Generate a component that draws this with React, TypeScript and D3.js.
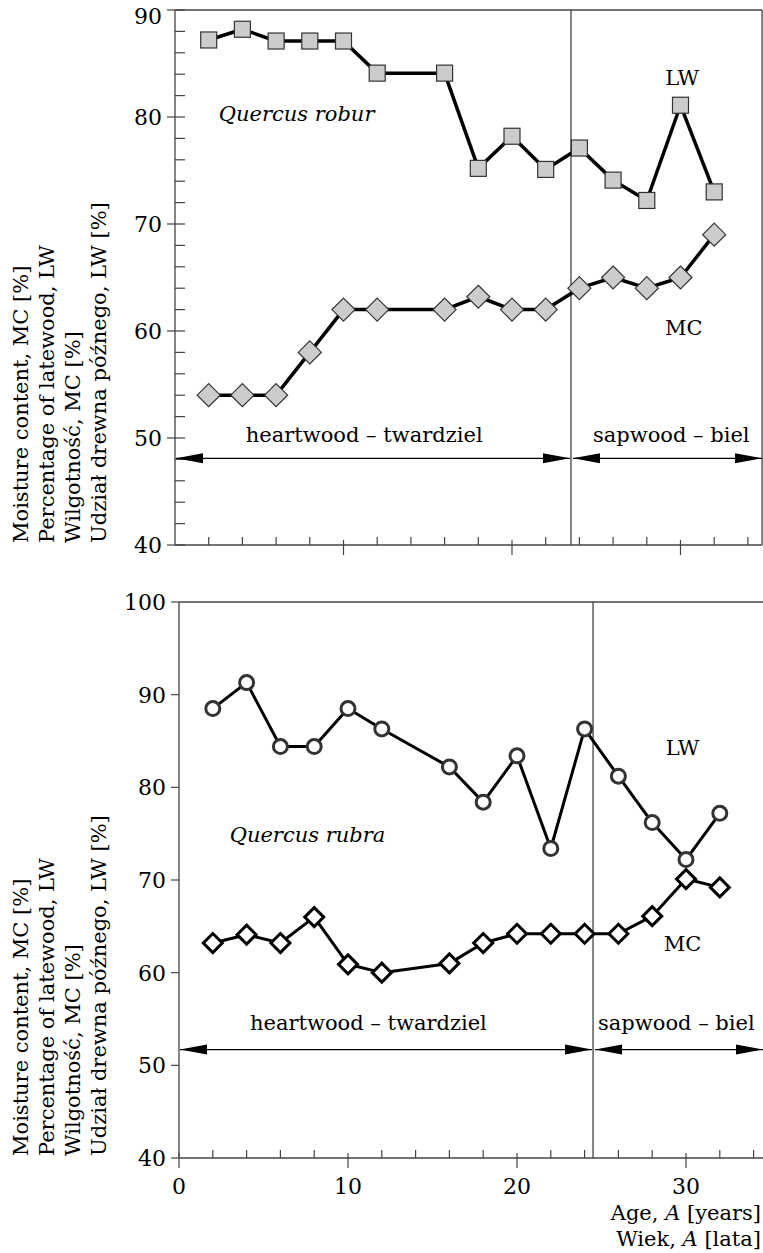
import { useEffect, useRef } from 'react';
import * as d3 from 'd3';

// age of the tree ring [years]
const ages = [2, 4, 6, 8, 10, 12, 16, 18, 20, 22, 24, 26, 28, 30, 32];

// Quercus robur
const roburLW = [87.2, 88.2, 87.1, 87.1, 87.1, 84.1, 84.1, 75.2, 78.2, 75.1, 77.1, 74.1, 72.2, 81.1, 73.0];
const roburMC = [54.0, 54.0, 54.0, 58.0, 62.0, 62.0, 62.0, 63.2, 62.0, 62.0, 64.0, 65.0, 64.0, 65.0, 69.0];

// Quercus rubra
const rubraLW = [88.5, 91.3, 84.4, 84.4, 88.5, 86.3, 82.2, 78.4, 83.4, 73.4, 86.3, 81.2, 76.2, 72.2, 77.2];
const rubraMC = [63.2, 64.1, 63.2, 66.0, 60.9, 60.0, 61.0, 63.2, 64.2, 64.2, 64.2, 64.2, 66.1, 70.1, 69.2];

const yLabelLines = [
  'Moisture content, MC [%]',
  'Percentage of latewood, LW',
  'Wilgotność, MC [%]',
  'Udział drewna późnego, LW [%]',
];
const xTickLabels = [0, 10, 20, 30];

const W = 763;
const H = 1253;
const FONT = '"DejaVu Serif", "Liberation Serif", serif';
const FS = 21;

const arrow = (g, x1, x2, y) => {
  g.append('line')
    .attr('x1', x1).attr('x2', x2).attr('y1', y).attr('y2', y)
    .attr('stroke', '#000').attr('stroke-width', 1.2);
  g.append('path')
    .attr('d', `M${x1},${y}L${x1 + 27},${y - 5}L${x1 + 27},${y + 5}Z`)
    .attr('fill', '#000');
  g.append('path')
    .attr('d', `M${x2},${y}L${x2 - 27},${y - 5}L${x2 - 27},${y + 5}Z`)
    .attr('fill', '#000');
};

const label = (g, x, y, txt, anchor = 'start', italic = false) =>
  g.append('text')
    .attr('x', x).attr('y', y)
    .attr('text-anchor', anchor)
    .attr('font-family', FONT)
    .attr('font-size', FS)
    .attr('font-style', italic ? 'italic' : 'normal')
    .attr('fill', '#000')
    .text(txt);

const drawPanel = (svg, p) => {
  const g = svg.append('g');
  const x = d3.scaleLinear().domain([0, 35]).range([p.left, p.left + 35 * p.pxPerYear]);
  const y = d3.scaleLinear().domain(p.yDomain).range([p.bottom, p.top]);
  const axisColor = '#444';
  const right = p.rightBorder ? x(p.xEnd) : W;

  // frame
  g.append('line').attr('x1', p.left).attr('x2', p.left).attr('y1', p.top).attr('y2', p.bottom)
    .attr('stroke', axisColor).attr('stroke-width', 1.3);
  g.append('line').attr('x1', p.left).attr('x2', right).attr('y1', p.bottom).attr('y2', p.bottom)
    .attr('stroke', axisColor).attr('stroke-width', 1.3);
  g.append('line').attr('x1', p.left).attr('x2', right).attr('y1', p.top).attr('y2', p.top)
    .attr('stroke', axisColor).attr('stroke-width', 1.3);
  if (p.rightBorder) {
    g.append('line').attr('x1', right).attr('x2', right).attr('y1', p.top).attr('y2', p.bottom)
      .attr('stroke', axisColor).attr('stroke-width', 1.3);
  }

  // y ticks
  const yMajor = d3.range(p.yDomain[0], p.yDomain[1] + 1, 10);
  yMajor.forEach(v => {
    g.append('line').attr('x1', p.left - 8).attr('x2', p.left + (p.minorY ? 10 : 0))
      .attr('y1', y(v)).attr('y2', y(v)).attr('stroke', axisColor).attr('stroke-width', 1.2);
    // the top label of a panel that touches the page edge sits a bit lower
    const shift = y(v) < 14 ? 6 : 0;
    g.append('text').attr('x', p.left - 13).attr('y', y(v) + shift).attr('dy', '0.36em')
      .attr('text-anchor', 'end').attr('font-family', FONT).attr('font-size', 22)
      .attr('fill', '#000').text(v);
  });
  if (p.minorY) {
    d3.range(p.yDomain[0], p.yDomain[1], 2).filter(v => v % 10 !== 0).forEach(v => {
      g.append('line').attr('x1', p.left).attr('x2', p.left + 10)
        .attr('y1', y(v)).attr('y2', y(v)).attr('stroke', axisColor).attr('stroke-width', 1.2);
    });
  }

  // x ticks
  d3.range(2, 35, 2).filter(v => v % 10 !== 0).forEach(v => {
    if (x(v) > right) return;
    g.append('line').attr('x1', x(v)).attr('x2', x(v))
      .attr('y1', p.bottom - 8).attr('y2', p.bottom).attr('stroke', axisColor).attr('stroke-width', 1.2);
  });
  xTickLabels.forEach(v => {
    if (v === 0 && p.rightBorder) return;
    g.append('line').attr('x1', x(v)).attr('x2', x(v))
      .attr('y1', p.bottom - 5).attr('y2', p.bottom + 10).attr('stroke', axisColor).attr('stroke-width', 1.2);
    if (p.xLabels) {
      g.append('text').attr('x', x(v)).attr('y', p.bottom + 36)
        .attr('text-anchor', 'middle').attr('font-family', FONT).attr('font-size', 22)
        .attr('fill', '#000').text(v);
    }
  });

  // heartwood / sapwood boundary
  const bx = x(p.boundary);
  g.append('line').attr('x1', bx).attr('x2', bx).attr('y1', p.top).attr('y2', p.bottom)
    .attr('stroke', '#444').attr('stroke-width', 1.3);
  const ay = y(p.arrowY);
  arrow(g, p.left + 1, bx - 1, ay);
  arrow(g, bx + 2, right, ay);
  label(g, x(4.2), y(p.zoneTextY), 'heartwood – twardziel');
  label(g, bx + p.sapOffset, y(p.zoneTextY), 'sapwood – biel');

  // series
  const line = d3.line().x(d => x(d[0])).y(d => y(d[1]));
  const lw = ages.map((a, i) => [a, p.lw[i]]);
  const mc = ages.map((a, i) => [a, p.mc[i]]);
  [lw, mc].forEach(s => {
    g.append('path').attr('d', line(s)).attr('fill', 'none')
      .attr('stroke', '#000').attr('stroke-width', p.lineWidth).attr('stroke-linejoin', 'round');
  });

  if (p.filled) {
    g.selectAll('rect.lw').data(lw).enter().append('rect')
      .attr('x', d => x(d[0]) - 8).attr('y', d => y(d[1]) - 8)
      .attr('width', 16).attr('height', 16)
      .attr('fill', '#cccccc').attr('stroke', '#333').attr('stroke-width', 1.2);
    g.selectAll('path.mc').data(mc).enter().append('path')
      .attr('d', d => `M${x(d[0])},${y(d[1]) - 11.5}l11.5,11.5l-11.5,11.5l-11.5,-11.5Z`)
      .attr('fill', '#cccccc').attr('stroke', '#333').attr('stroke-width', 1.2);
  } else {
    g.selectAll('circle.lw').data(lw).enter().append('circle')
      .attr('cx', d => x(d[0])).attr('cy', d => y(d[1])).attr('r', 7)
      .attr('fill', '#fff').attr('stroke', '#333').attr('stroke-width', 3);
    g.selectAll('path.mc').data(mc).enter().append('path')
      .attr('d', d => `M${x(d[0])},${y(d[1]) - 9.5}l9.5,9.5l-9.5,9.5l-9.5,-9.5Z`)
      .attr('fill', '#fff').attr('stroke', '#000').attr('stroke-width', 3)
      .attr('stroke-linejoin', 'miter');
  }

  label(g, x(p.speciesPos[0]), y(p.speciesPos[1]), p.species, 'start', true);
  label(g, x(p.lwPos[0]), y(p.lwPos[1]), 'LW', 'middle');
  label(g, x(p.mcPos[0]), y(p.mcPos[1]), 'MC', 'middle');

  // rotated y axis title
  yLabelLines.forEach((t, i) => {
    g.append('text')
      .attr('transform', `translate(${28 + i * 26},${p.bottom - 2}) rotate(-90)`)
      .attr('font-family', FONT).attr('font-size', FS).attr('fill', '#000')
      .text(t);
  });

  return { x, y };
};

export default function App() {
  const ref = useRef(null);

  useEffect(() => {
    const svg = d3.select(ref.current);
    svg.selectAll('*').remove();

    drawPanel(svg, {
      top: 10, bottom: 545, left: 175, pxPerYear: 16.85, xEnd: 34.84,
      yDomain: [40, 90], minorY: true, rightBorder: true, xLabels: false,
      boundary: 23.5, arrowY: 48.1, zoneTextY: 49.6, sapOffset: 22,
      lw: roburLW, mc: roburMC, filled: true, lineWidth: 3.5,
      species: 'Quercus robur', speciesPos: [2.6, 79.6], lwPos: [30.1, 83.0], mcPos: [30.2, 59.6],
    });

    drawPanel(svg, {
      top: 602, bottom: 1158, left: 179, pxPerYear: 16.9, xEnd: 35,
      yDomain: [40, 100], minorY: false, rightBorder: false, xLabels: true,
      boundary: 24.5, arrowY: 51.7, zoneTextY: 53.8, sapOffset: 5,
      lw: rubraLW, mc: rubraMC, filled: false, lineWidth: 3,
      species: 'Quercus rubra', speciesPos: [3.0, 74.1], lwPos: [29.8, 83.5], mcPos: [29.8, 62.3],
    });

    // x axis title
    const t1 = svg.append('text').attr('x', 761).attr('y', 1220).attr('text-anchor', 'end')
      .attr('font-family', FONT).attr('font-size', FS).attr('fill', '#000');
    t1.append('tspan').text('Age, ');
    t1.append('tspan').attr('font-style', 'italic').text('A');
    t1.append('tspan').text(' [years]');
    const t2 = svg.append('text').attr('x', 761).attr('y', 1246).attr('text-anchor', 'end')
      .attr('font-family', FONT).attr('font-size', FS).attr('fill', '#000');
    t2.append('tspan').text('Wiek, ');
    t2.append('tspan').attr('font-style', 'italic').text('A');
    t2.append('tspan').text(' [lata]');
  }, []);

  return (
    <svg
      ref={ref}
      width={W}
      height={H}
      style={{ position: 'absolute', left: 0, top: 0, background: '#fff' }}
    />
  );
}
